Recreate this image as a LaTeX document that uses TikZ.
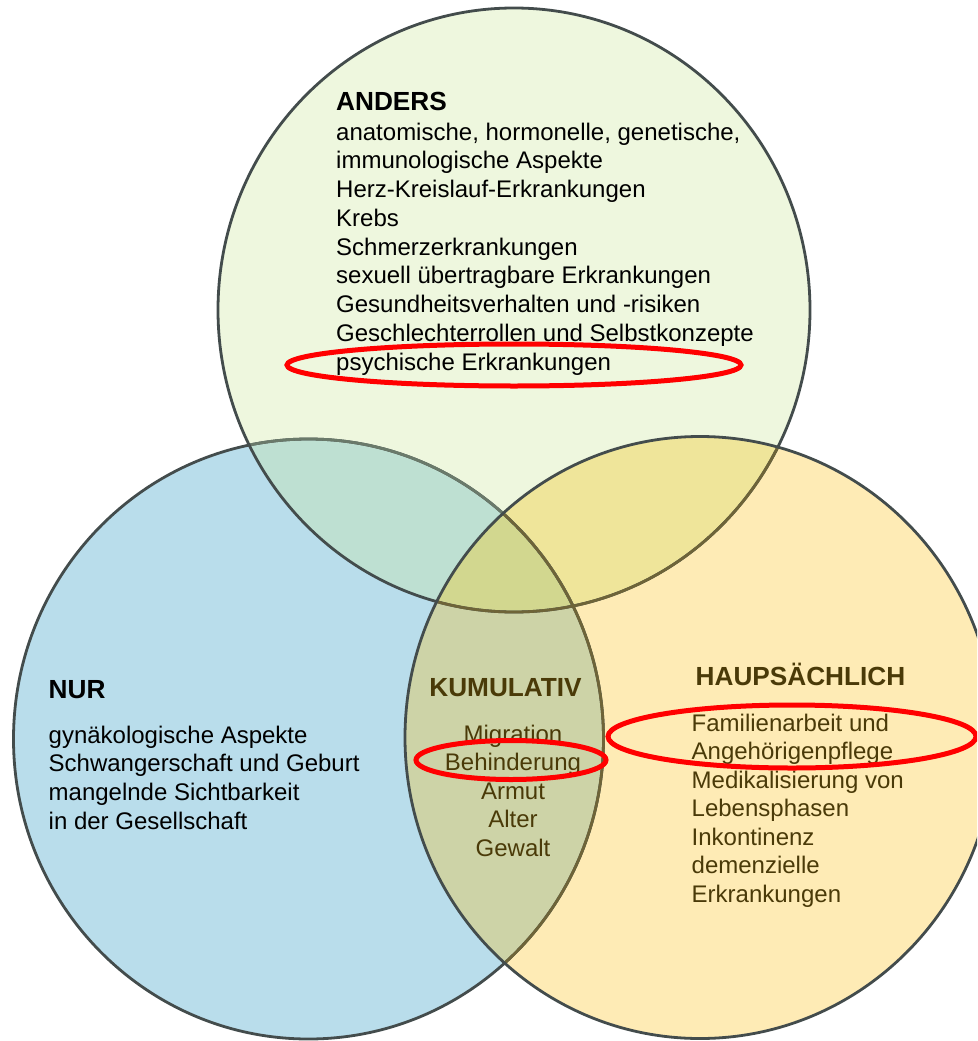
\documentclass[tikz,border=0pt]{standalone}
\usepackage{fontspec}
\setmainfont{Liberation Sans}
\definecolor{cT}{HTML}{EEF7DE}
\definecolor{cL}{HTML}{B9DDEB}
\definecolor{cR}{HTML}{FEEBB5}
\definecolor{cTL}{HTML}{BEE0D2}
\definecolor{cTR}{HTML}{EFE59A}
\definecolor{cLR}{HTML}{CDD3A7}
\definecolor{cC}{HTML}{D2D78F}
\definecolor{edge}{HTML}{434C4C}
\definecolor{edgeG}{HTML}{6A7A6A}
\definecolor{edgeO}{HTML}{6E6438}
\definecolor{brownT}{HTML}{4A3A08}
\definecolor{mark}{HTML}{FF0000}
\tikzset{
  topE/.style={insert path={(cTop) ellipse [x radius=296pt, y radius=302pt]}},
  leftE/.style={insert path={(cLeft) ellipse [x radius=295pt, y radius=300pt]}},
  rightE/.style={insert path={(cRight) ellipse [x radius=295pt, y radius=301pt]}},
  rim/.style={line width=2.8pt},
  head/.style={inner sep=0pt, font=\fontsize{26.2}{30}\selectfont\bfseries},
  body/.style={inner sep=0pt, font=\fontsize{24}{28.8}\selectfont},
  ring/.style={draw=mark, line width=5pt}
}
\begin{document}
\begin{tikzpicture}[x=1pt,y=-1pt]
\useasboundingbox (0,0) rectangle (977,1041);
\clip (0,0) rectangle (977,1041);
\coordinate (cTop) at (514,310);
\coordinate (cLeft) at (308.5,739);
\coordinate (cRight) at (700,737.5);
% region fills
\fill[cL, leftE];
\fill[cT, topE];
\fill[cR, rightE];
\begin{scope}\clip[topE]; \fill[cTL, leftE]; \fill[cTR, rightE];\end{scope}
\begin{scope}\clip[leftE]; \fill[cLR, rightE];\end{scope}
\begin{scope}\clip[topE]; \clip[leftE]; \fill[cC, rightE];\end{scope}
% outlines
\draw[rim, edge, leftE];
\begin{scope}\clip[topE]; \draw[rim, edgeG, leftE];\end{scope}
\draw[rim, edge, topE];
\begin{scope}\clip[rightE]; \draw[rim, edgeO, leftE]; \draw[rim, edgeO, topE];\end{scope}
\draw[rim, edge, rightE];
% ANDERS
\node[head, anchor=base west] (anders) at (336,110) {ANDERS};
\foreach \t [count=\i] in {{anatomische, hormonelle, genetische,},{immunologische Aspekte},{Herz-Kreislauf-Erkrankungen},{Krebs},{Schmerzerkrankungen},{sexuell übertragbare Erkrankungen},{Gesundheitsverhalten und -risiken},{Geschlechterrollen und Selbstkonzepte},{psychische Erkrankungen}}
  \node[body, anchor=base west] (a\i) at (336,{140+28.75*(\i-1)}) {\t};
% NUR
\node[head, anchor=base west] (nur) at (48.5,698) {NUR};
\foreach \t [count=\i] in {{gynäkologische Aspekte},{Schwangerschaft und Geburt},{mangelnde Sichtbarkeit},{in der Gesellschaft}}
  \node[body, anchor=base west] (n\i) at (48.5,{743+28.9*(\i-1)}) {\t};
% KUMULATIV
\node[head, anchor=base, text=brownT] (kum) at (505.5,696) {KUMULATIV};
\foreach \t [count=\i] in {Migration,Behinderung,Armut,Alter,Gewalt}
  \node[body, anchor=base, text=brownT] (k\i) at (513,{742+28.5*(\i-1)}) {\t};
% HAUPSAECHLICH
\node[head, anchor=base west, text=brownT] (haupt) at (695.5,685) {HAUPSÄCHLICH};
\foreach \t [count=\i] in {{Familienarbeit und},{Angehörigenpflege},{Medikalisierung von},{Lebensphasen},{Inkontinenz},{demenzielle},{Erkrankungen}}
  \node[body, anchor=base west, text=brownT] (h\i) at (691.5,{731+28.5*(\i-1)}) {\t};
% red marks
\draw[ring] (514,365) ellipse [x radius=227pt, y radius=21pt];
\draw[ring] (511,760) ellipse [x radius=95pt, y radius=19.5pt];
\draw[ring] (792,736.5) ellipse [x radius=184pt, y radius=31.5pt];
\end{tikzpicture}
\end{document}
